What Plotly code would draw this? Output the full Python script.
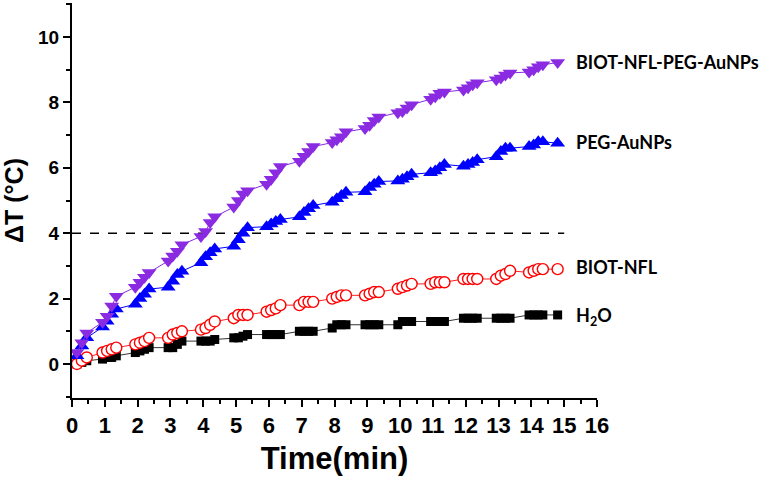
import plotly.graph_objects as go

# time points (min)
time_min = [0.15, 0.3, 0.45,
            0.93, 1.07, 1.21, 1.35,
            1.93, 2.07, 2.21, 2.35,
            2.93, 3.07, 3.21, 3.35,
            3.93, 4.07, 4.21, 4.35,
            4.93, 5.07, 5.21, 5.35,
            5.93, 6.07, 6.21, 6.35,
            6.93, 7.07, 7.21, 7.35,
            7.93, 8.07, 8.21, 8.35,
            8.93, 9.07, 9.21, 9.35,
            9.93, 10.07, 10.21, 10.35,
            10.93, 11.07, 11.21, 11.35,
            11.93, 12.07, 12.21, 12.35,
            12.93, 13.07, 13.21, 13.35,
            13.93, 14.07, 14.21, 14.35,
            14.8]

h2o = [0.0, 0.05, 0.1,
       0.15, 0.2, 0.2, 0.25,
       0.35, 0.4, 0.45, 0.5,
       0.5, 0.5, 0.6, 0.7,
       0.7, 0.7, 0.7, 0.75,
       0.8, 0.8, 0.85, 0.9,
       0.9, 0.9, 0.9, 0.9,
       1.0, 1.0, 1.0, 1.0,
       1.1, 1.2, 1.2, 1.2,
       1.2, 1.2, 1.2, 1.2,
       1.2, 1.3, 1.3, 1.3,
       1.3, 1.3, 1.3, 1.3,
       1.4, 1.4, 1.4, 1.4,
       1.4, 1.4, 1.4, 1.4,
       1.5, 1.5, 1.5, 1.5,
       1.5]

biot_nfl = [0.0, 0.1, 0.2,
            0.35, 0.4, 0.45, 0.5,
            0.6, 0.65, 0.7, 0.8,
            0.8, 0.9, 0.95, 1.0,
            1.05, 1.1, 1.2, 1.3,
            1.4, 1.5, 1.5, 1.5,
            1.6, 1.65, 1.7, 1.8,
            1.8, 1.9, 1.9, 1.9,
            2.0, 2.05, 2.1, 2.1,
            2.1, 2.15, 2.2, 2.2,
            2.3, 2.35, 2.4, 2.45,
            2.45, 2.5, 2.5, 2.5,
            2.6, 2.6, 2.6, 2.6,
            2.6, 2.7, 2.75, 2.85,
            2.8, 2.85, 2.9, 2.9,
            2.9]

peg_aunps = [0.25, 0.55, 0.8,
             1.13, 1.31, 1.52, 1.68,
             1.83, 2.0, 2.13, 2.29,
             2.35, 2.53, 2.74, 2.84,
             3.1, 3.28, 3.4, 3.52,
             3.6, 3.8, 4.0, 4.17,
             4.2, 4.28, 4.36, 4.42,
             4.5, 4.63, 4.75, 4.85,
             4.95, 5.05, 5.15, 5.25,
             5.27, 5.4, 5.5, 5.58,
             5.6, 5.65, 5.73, 5.8,
             5.85, 5.9, 6.0, 6.1,
             6.05, 6.1, 6.16, 6.25,
             6.34, 6.5, 6.6, 6.6,
             6.65, 6.7, 6.8, 6.8,
             6.75]

biot_nfl_peg_aunps = [0.35, 0.65, 0.95,
                      1.28, 1.46, 1.77, 2.07,
                      2.35, 2.5, 2.65, 2.8,
                      3.15, 3.3, 3.45, 3.65,
                      3.9, 4.05, 4.33, 4.5,
                      4.8, 5.0, 5.2, 5.3,
                      5.5, 5.65, 5.85, 6.04,
                      6.2, 6.35, 6.5, 6.65,
                      6.77, 6.86, 6.95, 7.1,
                      7.2, 7.3, 7.45, 7.55,
                      7.68, 7.72, 7.83, 7.93,
                      8.1, 8.17, 8.28, 8.32,
                      8.38, 8.45, 8.54, 8.6,
                      8.69, 8.75, 8.84, 8.9,
                      8.93, 9.0, 9.09, 9.15,
                      9.22]

threshold = 4
threshold_x = [0, 15]

x_ticks = list(range(0, 17))
y_ticks = [0, 2, 4, 6, 8, 10]

labels = ["BIOT-NFL-PEG-AuNPs", "PEG-AuNPs", "BIOT-NFL", "H<sub>2</sub>O"]
label_y = [9.24, 6.8, 2.96, 1.45]
label_x = 15.3

fig = go.Figure()

fig.add_trace(go.Scatter(
    x=threshold_x, y=[threshold, threshold], mode="lines",
    line=dict(color="black", width=1.5, dash="dash"), showlegend=False, hoverinfo="skip"))

fig.add_trace(go.Scatter(
    x=time_min, y=h2o, mode="lines+markers", name="H2O",
    line=dict(color="#333333", width=1),
    marker=dict(symbol="square", size=9, color="black", line=dict(width=0))))

fig.add_trace(go.Scatter(
    x=time_min, y=biot_nfl, mode="lines+markers", name="BIOT-NFL",
    line=dict(color="#ff2020", width=1),
    marker=dict(symbol="circle", size=11, color="white", line=dict(color="#ff0000", width=1.4))))

fig.add_trace(go.Scatter(
    x=time_min, y=peg_aunps, mode="lines+markers", name="PEG-AuNPs",
    line=dict(color="#0000ff", width=1),
    marker=dict(symbol="triangle-up", size=13, color="#0000ff", line=dict(width=0))))

fig.add_trace(go.Scatter(
    x=time_min, y=biot_nfl_peg_aunps, mode="lines+markers", name="BIOT-NFL-PEG-AuNPs",
    line=dict(color="#8a2be2", width=1),
    marker=dict(symbol="triangle-down", size=13, color="#8a2be2", line=dict(width=0))))

for txt, yy in zip(labels, label_y):
    fig.add_annotation(x=label_x, y=yy, text="<b>" + txt + "</b>", showarrow=False,
                       xanchor="left", yanchor="middle",
                       font=dict(family="Lato, Open Sans, sans-serif", size=18, color="black"))

fig.update_layout(
    width=774, height=484,
    margin=dict(l=72, r=177, t=3, b=86),
    plot_bgcolor="white", paper_bgcolor="white",
    showlegend=False,
    xaxis=dict(
        range=[0, 16], tickvals=x_ticks, ticktext=[str(v) for v in x_ticks],
        showgrid=False, zeroline=False, showline=True, linecolor="black", linewidth=2,
        ticks="outside", ticklen=7, tickwidth=2, tickcolor="black",
        minor=dict(dtick=0.5, ticks="outside", ticklen=4, tickwidth=1.5, tickcolor="black"),
        tickfont=dict(family="Liberation Sans Narrow, Arial Narrow, sans-serif", size=22, color="black", weight="bold"),
        title=dict(text="<b>Time(min)</b>", standoff=10,
                   font=dict(family="Liberation Sans Narrow, Arial Narrow, sans-serif", size=31, color="black")),
        automargin=False,
    ),
    yaxis=dict(
        range=[-1.04, 11.04], tickvals=y_ticks,
        showgrid=False, zeroline=False, showline=True, linecolor="black", linewidth=2,
        ticks="outside", ticklen=7, tickwidth=2, tickcolor="black",
        minor=dict(dtick=1, ticks="outside", ticklen=4, tickwidth=1.5, tickcolor="black"),
        tickfont=dict(family="Liberation Sans, Arial, sans-serif", size=19, color="black", weight="bold"),
        title=dict(text="<b>ΔT (°C)</b>", standoff=10,
                   font=dict(family="Liberation Sans, Arial, sans-serif", size=25, color="black")),
        automargin=False,
    ),
)

fig.write_html("out.html", config={"displayModeBar": False},
               post_script="document.body.style.margin='0';document.body.style.padding='0';")
